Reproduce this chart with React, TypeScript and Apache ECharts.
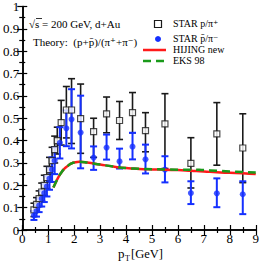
import React, { useEffect, useRef } from "react";
import * as echarts from "echarts";

// STAR p/pi+ (black open squares)
const pPiX = [0.45, 0.55, 0.65, 0.75, 0.85, 0.95, 1.05, 1.15, 1.25, 1.35, 1.5, 1.7, 1.9, 2.25, 2.75, 3.25, 3.75, 4.25, 4.75, 5.5, 6.5, 7.5, 8.5];
const pPiY = [0.09, 0.115, 0.14, 0.17, 0.2, 0.235, 0.27, 0.31, 0.36, 0.4, 0.48, 0.537, 0.537, 0.498, 0.44, 0.52, 0.49, 0.525, 0.445, 0.475, 0.298, 0.43, 0.367];
const pPiErrHi = [0.03, 0.03, 0.035, 0.04, 0.045, 0.05, 0.055, 0.06, 0.06, 0.06, 0.1, 0.105, 0.14, 0.155, 0.06, 0.075, 0.085, 0.09, 0.08, 0.135, 0.115, 0.14, 0.153];
const pPiErrLo = [0.03, 0.03, 0.035, 0.04, 0.045, 0.05, 0.055, 0.06, 0.06, 0.06, 0.1, 0.125, 0.15, 0.155, 0.115, 0.085, 0.085, 0.09, 0.095, 0.2, 0.11, 0.14, 0.155];

// STAR pbar/pi- (blue stars)
const pbPiX = [0.45, 0.55, 0.65, 0.75, 0.85, 0.95, 1.05, 1.15, 1.25, 1.45, 1.7, 1.9, 2.25, 2.75, 3.25, 3.75, 4.25, 4.75, 5.5, 6.5, 7.5, 8.5];
const pbPiY = [0.065, 0.085, 0.11, 0.14, 0.165, 0.195, 0.23, 0.27, 0.31, 0.39, 0.455, 0.495, 0.436, 0.324, 0.369, 0.307, 0.373, 0.316, 0.27, 0.165, 0.164, 0.16];
const pbPiErrHi = [0.02, 0.025, 0.03, 0.035, 0.04, 0.045, 0.05, 0.055, 0.06, 0.07, 0.08, 0.135, 0.165, 0.05, 0.058, 0.057, 0.062, 0.066, 0.06, 0.053, 0.067, 0.058];
const pbPiErrLo = [0.02, 0.025, 0.03, 0.035, 0.04, 0.045, 0.05, 0.055, 0.06, 0.07, 0.08, 0.13, 0.16, 0.055, 0.054, 0.032, 0.057, 0.063, 0.057, 0.049, 0.062, 0.089];

// Theory curves
const curveX = [1.2, 1.3, 1.4, 1.5, 1.6, 1.7, 1.8, 1.9, 2.0, 2.2, 2.5, 3.0, 3.5, 4.0, 4.5, 5.0, 5.5, 6.0, 6.5, 7.0, 7.5, 8.0, 8.5, 9.0];
const hijingY = [0.19, 0.215, 0.238, 0.256, 0.271, 0.282, 0.291, 0.298, 0.302, 0.305, 0.302, 0.293, 0.284, 0.277, 0.273, 0.271, 0.27, 0.268, 0.265, 0.262, 0.258, 0.256, 0.254, 0.25];
const eksY = [0.19, 0.215, 0.238, 0.256, 0.271, 0.282, 0.291, 0.298, 0.302, 0.305, 0.302, 0.293, 0.284, 0.277, 0.274, 0.272, 0.271, 0.27, 0.27, 0.268, 0.265, 0.262, 0.26, 0.257];

const xTicks = [0, 1, 2, 3, 4, 5, 6, 7, 8, 9];

const SERIF = "'Liberation Serif', 'DejaVu Serif', serif";
const BLUE = "#1530ff";
const RED = "#ff1a1a";
const GREEN = "#1a9a1a";

function errorSeries(xs: number[], ys: number[], lo: number[], hi: number[], color: string, width: number) {
  const data = xs.map((x, i) => [x, ys[i] - lo[i], ys[i] + hi[i]]);
  return {
    type: "custom",
    data,
    silent: true,
    encode: { x: 0, y: [1, 2] },
    renderItem: (_params: any, api: any) => {
      const x = api.value(0);
      const a = api.coord([x, api.value(1)]);
      const b = api.coord([x, api.value(2)]);
      const hw = 3.5;
      const style = { stroke: color, lineWidth: width };
      return {
        type: "group",
        children: [
          { type: "line", shape: { x1: b[0], y1: b[1], x2: a[0], y2: a[1] }, style },
          { type: "line", shape: { x1: b[0] - hw, y1: b[1], x2: b[0] + hw, y2: b[1] }, style },
          { type: "line", shape: { x1: a[0] - hw, y1: a[1], x2: a[0] + hw, y2: a[1] }, style },
        ],
      };
    },
  };
}

export default function App() {
  const ref = useRef<HTMLDivElement>(null);
  useEffect(() => {
    if (!ref.current) return;
    const chart = echarts.init(ref.current, undefined, { renderer: "svg" });
    const axisLine = { show: true, lineStyle: { color: "#000", width: 1.5 } };
    const xCommon = {
      type: "value",
      min: 0,
      max: 9,
      interval: 1,
      axisLine,
      axisTick: { show: true, inside: true, length: 5, lineStyle: { color: "#000", width: 1.2 } },
      minorTick: { show: true, splitNumber: 2, length: 3, lineStyle: { color: "#000", width: 1.2 } },
      splitLine: { show: false },
    };
    const yCommon = {
      type: "value",
      min: 0,
      max: 1,
      interval: 0.1,
      axisLine,
      axisTick: { show: true, inside: true, length: 5, lineStyle: { color: "#000", width: 1.2 } },
      minorTick: { show: true, splitNumber: 2, length: 3, lineStyle: { color: "#000", width: 1.2 } },
      splitLine: { show: false },
    };
    chart.setOption({
      animation: false,
      grid: { left: 19, right: 4, top: 5, bottom: 32 },
      xAxis: [
        {
          ...xCommon,
          position: "bottom",
          axisLabel: {
            fontFamily: SERIF,
            fontSize: 13,
            color: "#000",
            margin: 2,
            formatter: (v: number) => (xTicks.includes(v) ? String(v) : ""),
          },
        },
        { ...xCommon, position: "top", axisLabel: { show: false } },
      ],
      yAxis: [
        {
          ...yCommon,
          position: "left",
          axisLabel: {
            fontFamily: SERIF,
            fontSize: 13,
            color: "#000",
            margin: 3,
            formatter: (v: number) => (v === 0 ? "0" : Math.abs(v - 1) < 1e-9 ? "1" : v.toFixed(1)),
          },
        },
        { ...yCommon, position: "right", axisLabel: { show: false } },
      ],
      series: [
        errorSeries(pPiX, pPiY, pPiErrLo, pPiErrHi, "#1a1a1a", 1.6),
        {
          type: "scatter",
          data: pPiX.map((x, i) => [x, pPiY[i]]),
          symbol: "rect",
          symbolSize: 6,
          itemStyle: { color: "#fff", borderColor: "#1a1a1a", borderWidth: 1.2 },
          silent: true,
        },
        errorSeries(pbPiX, pbPiY, pbPiErrLo, pbPiErrHi, BLUE, 2),
        {
          type: "scatter",
          data: pbPiX.map((x, i) => [x, pbPiY[i]]),
          symbol: "circle",
          symbolSize: 6,
          itemStyle: { color: BLUE },
          silent: true,
        },
        {
          type: "line",
          data: curveX.map((x, i) => [x, hijingY[i]]),
          showSymbol: false,
          smooth: true,
          lineStyle: { color: RED, width: 2.5 },
          silent: true,
        },
        {
          type: "line",
          data: curveX.map((x, i) => [x, eksY[i]]),
          showSymbol: false,
          smooth: true,
          lineStyle: { color: GREEN, width: 2.5, type: [8, 5] },
          silent: true,
        },
      ],
      graphic: [
        // annotation texts
        {
          type: "text",
          left: 29,
          top: 18,
          style: { text: "√s = 200 GeV, d+Au", font: `11px ${SERIF}`, fill: "#000" },
        },
        { type: "line", shape: { x1: 36, y1: 18.5, x2: 42, y2: 18.5 }, style: { stroke: "#000", lineWidth: 0.8 } },
        {
          type: "text",
          left: 33,
          top: 36,
          style: { text: "Theory:  (p+p\u0304)/(π⁺+π⁻)", font: `11px ${SERIF}`, fill: "#000" },
        },
        // legend
        { type: "rect", shape: { x: 154.5, y: 20.5, width: 7, height: 7 }, style: { fill: "#fff", stroke: "#1a1a1a", lineWidth: 1.2 } },
        { type: "circle", shape: { cx: 158, cy: 39, r: 3 }, style: { fill: BLUE } },
        { type: "line", shape: { x1: 143, y1: 50, x2: 166, y2: 50 }, style: { stroke: RED, lineWidth: 2.5 } },
        { type: "line", shape: { x1: 143, y1: 61, x2: 166, y2: 61 }, style: { stroke: GREEN, lineWidth: 2.5, lineDash: [8, 5] } },
        { type: "text", left: 173, top: 18, style: { text: "STAR p/π⁺", font: `10px ${SERIF}`, fill: "#000" } },
        { type: "text", left: 173, top: 33, style: { text: "STAR p\u0304/π⁻", font: `10px ${SERIF}`, fill: "#000" } },
        { type: "text", left: 173, top: 44, style: { text: "HIJING new", font: `10px ${SERIF}`, fill: "#000" } },
        { type: "text", left: 173, top: 55, style: { text: "EKS 98", font: `10px ${SERIF}`, fill: "#000" } },
        // x-axis title
        { type: "text", left: 118, top: 247, style: { text: "p", font: `13px ${SERIF}`, fill: "#000" } },
        { type: "text", left: 125, top: 254, style: { text: "T", font: `8px ${SERIF}`, fill: "#000" } },
        { type: "text", left: 131, top: 247, style: { text: "[GeV]", font: `12.5px ${SERIF}`, fill: "#000" } },
      ],
    });
    return () => chart.dispose();
  }, []);
  return (
    <div
      ref={ref}
      style={{ position: "fixed", left: 0, top: 0, width: 262, height: 262, background: "#fff" }}
    />
  );
}
